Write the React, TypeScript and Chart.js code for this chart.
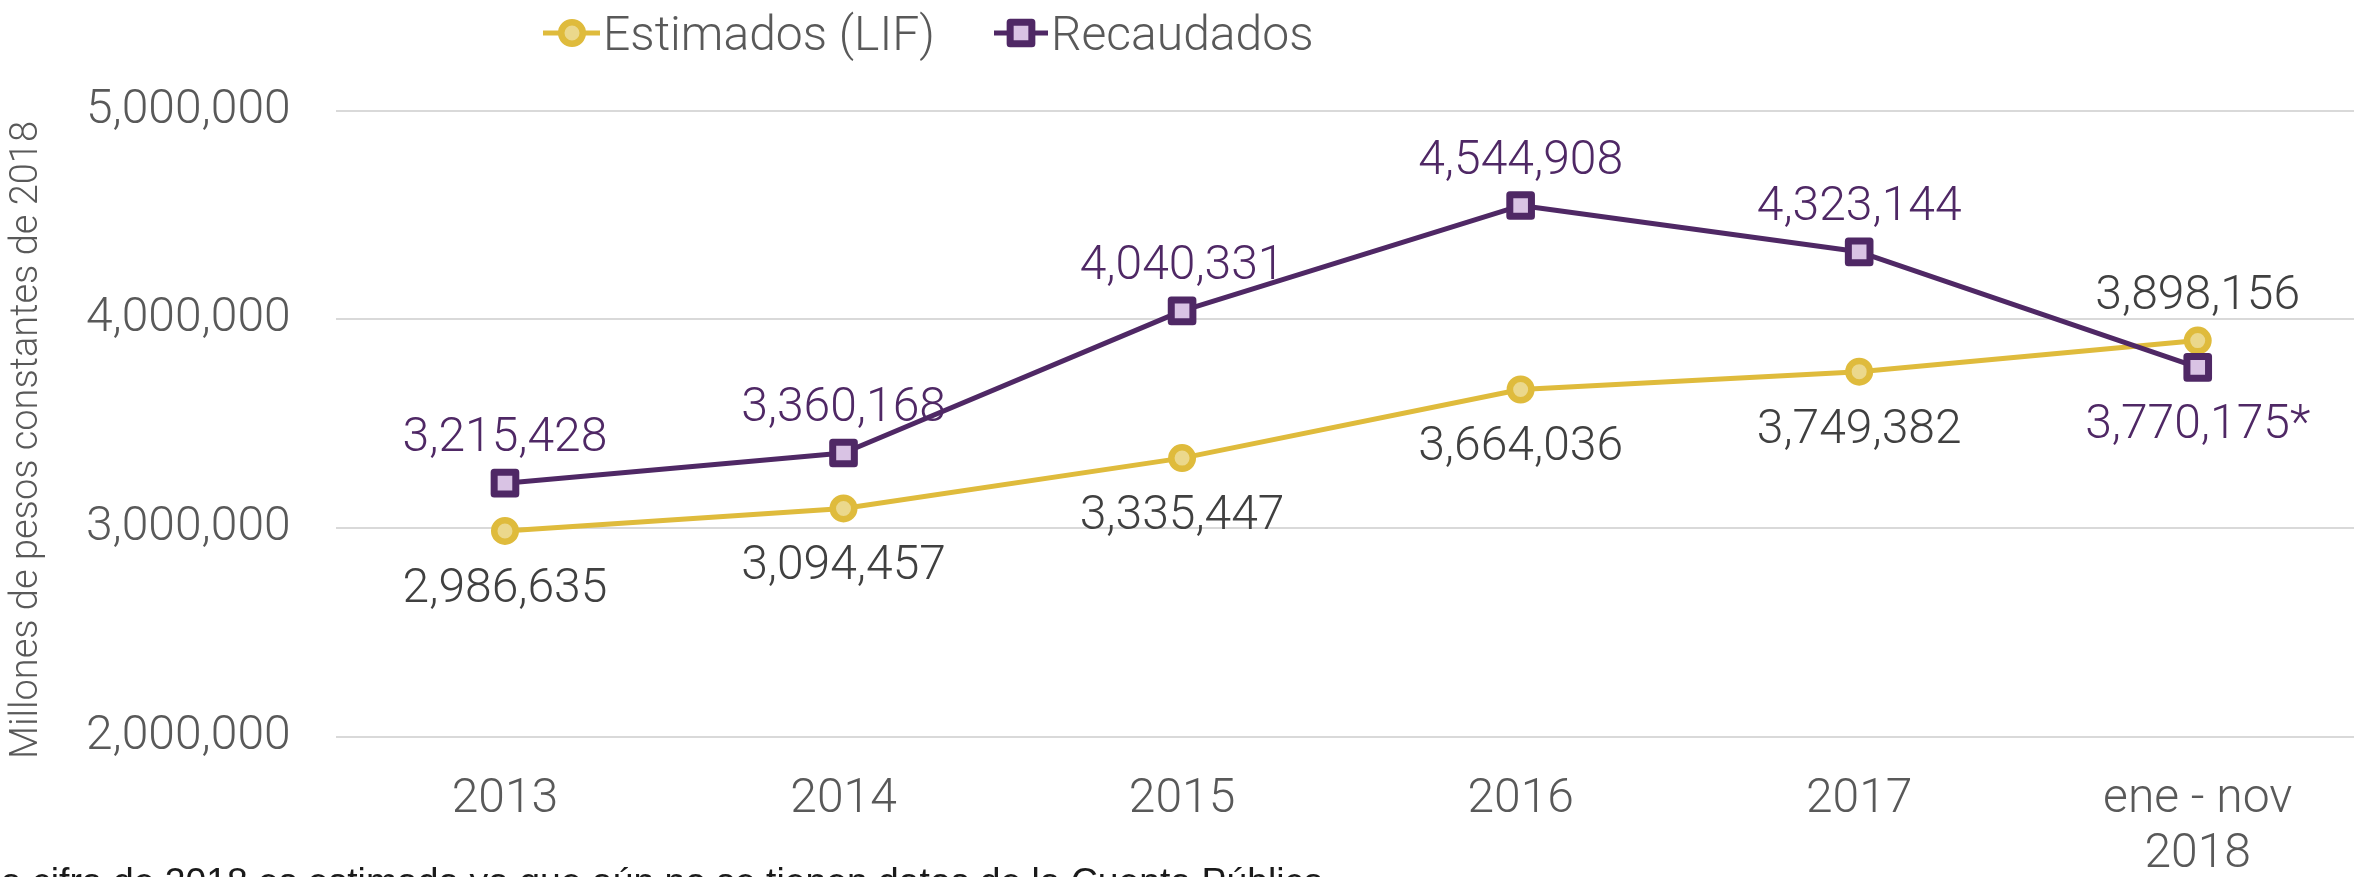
import React, { useEffect, useRef } from 'react';
import { Chart, registerables } from 'chart.js';

Chart.register(...registerables);

const categories: (string | string[])[] = ['2013', '2014', '2015', '2016', '2017', ['ene - nov', '2018']];
const estimados = [2986635, 3094457, 3335447, 3664036, 3749382, 3898156];
const recaudados = [3215428, 3360168, 4040331, 4544908, 4323144, 3770175];
const estimadosPos = ['below', 'below', 'below', 'below', 'below', 'above'];
const recaudadosPos = ['above', 'above', 'above', 'above', 'above', 'below'];
const estimadosSuffix = ['', '', '', '', '', ''];
const recaudadosSuffix = ['', '', '', '', '', '*'];
const yTicks = [2000000, 3000000, 4000000, 5000000];
const seriesNames = ['Estimados (LIF)', 'Recaudados'];
const yTitle = 'Millones de pesos constantes de 2018';
const footnote = '*La cifra de 2018 es estimada ya que aún no se tienen datos de la Cuenta Pública';

const FONT = 'Roboto, "Liberation Sans", sans-serif';
const YELLOW = '#DFBB3C';
const YELLOW_FILL = '#EBD88C';
const PURPLE = '#4F2865';
const PURPLE_FILL = '#D9C3E4';
const GRAY_TEXT = '#595959';
const DARK_TEXT = '#404040';

const fmt = (v: number) => v.toLocaleString('en-US');

const labelCfg = [
  { pos: estimadosPos, suffix: estimadosSuffix, color: DARK_TEXT },
  { pos: recaudadosPos, suffix: recaudadosSuffix, color: PURPLE },
];

function drawCircleMarker(ctx: CanvasRenderingContext2D, x: number, y: number) {
  ctx.beginPath();
  ctx.arc(x, y, 10.75, 0, Math.PI * 2);
  ctx.fillStyle = YELLOW_FILL;
  ctx.fill();
  ctx.lineWidth = 6.5;
  ctx.strokeStyle = YELLOW;
  ctx.stroke();
}

function drawSquareMarker(ctx: CanvasRenderingContext2D, x: number, y: number) {
  const s = 21.7;
  ctx.beginPath();
  ctx.rect(x - s / 2, y - s / 2, s, s);
  ctx.fillStyle = PURPLE_FILL;
  ctx.fill();
  ctx.lineWidth = 7;
  ctx.lineJoin = 'round';
  ctx.strokeStyle = PURPLE;
  ctx.stroke();
}

const customPlugin = {
  id: 'customDecor',
  beforeDatasetsDraw(chart: any) {
    chart.ctx.save();
    chart.ctx.lineJoin = 'round';
  },
  afterDatasetsDraw(chart: any) {
    chart.ctx.restore();
    const ctx: CanvasRenderingContext2D = chart.ctx;
    ctx.save();
    ctx.font = `300 48px ${FONT}`;
    ctx.textAlign = 'center';
    ctx.textBaseline = 'alphabetic';
    chart.data.datasets.forEach((ds: any, di: number) => {
      const meta = chart.getDatasetMeta(di);
      const cfg = labelCfg[di];
      meta.data.forEach((pt: any, i: number) => {
        const text = fmt(ds.data[i]) + cfg.suffix[i];
        const y = cfg.pos[i] === 'above' ? pt.y - 49 + 17 : pt.y + 54 + 17;
        ctx.fillStyle = cfg.color;
        ctx.fillText(text, pt.x, y);
      });
    });
    ctx.restore();
  },
  afterDraw(chart: any) {
    const ctx: CanvasRenderingContext2D = chart.ctx;
    ctx.save();
    // legend
    const ly = 33;
    ctx.lineCap = 'butt';
    ctx.lineWidth = 5;
    ctx.strokeStyle = YELLOW;
    ctx.beginPath();
    ctx.moveTo(543, ly);
    ctx.lineTo(600, ly);
    ctx.stroke();
    drawCircleMarker(ctx, 572, ly);
    ctx.lineWidth = 5;
    ctx.strokeStyle = PURPLE;
    ctx.beginPath();
    ctx.moveTo(994, ly);
    ctx.lineTo(1048, ly);
    ctx.stroke();
    drawSquareMarker(ctx, 1021, ly);
    ctx.font = `300 48px ${FONT}`;
    ctx.fillStyle = GRAY_TEXT;
    ctx.textAlign = 'left';
    ctx.textBaseline = 'alphabetic';
    ctx.fillText(seriesNames[0], 603, ly + 17);
    ctx.fillText(seriesNames[1], 1051, ly + 17);

    // y title
    ctx.save();
    ctx.translate(27, 440);
    ctx.rotate(-Math.PI / 2);
    ctx.font = `300 38px ${FONT}`;
    ctx.textAlign = 'center';
    ctx.textBaseline = 'middle';
    ctx.fillStyle = GRAY_TEXT;
    ctx.fillText(yTitle, 0, 0);
    ctx.restore();

    // footnote
    ctx.font = `400 37.3px "Liberation Sans", Arial, sans-serif`;
    ctx.fillStyle = '#1a1a1a';
    ctx.textAlign = 'left';
    const off = ctx.measureText('*L').width;
    ctx.fillText(footnote, -off + 1, 894);
    ctx.restore();
  },
};

export default function App() {
  const canvasRef = useRef<HTMLCanvasElement | null>(null);

  useEffect(() => {
    if (!canvasRef.current) return;
    const chart = new Chart(canvasRef.current, {
      type: 'line',
      data: {
        labels: categories,
        datasets: [
          {
            label: seriesNames[0],
            data: estimados,
            order: 1,
            borderColor: YELLOW,
            backgroundColor: YELLOW_FILL,
            borderWidth: 5,
            borderJoinStyle: 'round',
            pointStyle: 'circle',
            pointRadius: 10.75,
            pointBorderWidth: 6.5,
            pointBackgroundColor: YELLOW_FILL,
            pointBorderColor: YELLOW,
            tension: 0,
            fill: false,
            clip: false,
          },
          {
            label: seriesNames[1],
            data: recaudados,
            order: 0,
            borderColor: PURPLE,
            backgroundColor: PURPLE_FILL,
            borderWidth: 5,
            borderJoinStyle: 'round',
            pointStyle: 'rect',
            pointRadius: 15.3,
            pointBorderWidth: 7,
            pointBackgroundColor: PURPLE_FILL,
            pointBorderColor: PURPLE,
            tension: 0,
            fill: false,
            clip: false,
          },
        ],
      },
      options: {
        responsive: false,
        animation: false,
        devicePixelRatio: 1,
        layout: { autoPadding: false, padding: { left: 0, right: 0, top: 110.5, bottom: 0 } },
        plugins: {
          legend: { display: false },
          tooltip: { enabled: false },
          title: { display: false },
        },
        scales: {
          x: {
            type: 'category',
            offset: true,
            grid: { display: false, drawTicks: false },
            border: { display: false },
            ticks: {
              color: GRAY_TEXT,
              font: { family: FONT, size: 48, weight: '300', lineHeight: 1.15 },
              padding: 35,
              maxRotation: 0,
              autoSkip: false,
            },
            afterFit: (scale: any) => {
              scale.height = 140;
              scale.paddingLeft = 0;
              scale.paddingRight = 0;
            },
          },
          y: {
            min: yTicks[0],
            max: yTicks[yTicks.length - 1],
            afterBuildTicks: (scale: any) => {
              scale.ticks = yTicks.map((v) => ({ value: v }));
            },
            grid: { color: '#D9D9D9', lineWidth: 2, drawTicks: false },
            border: { display: false },
            ticks: {
              color: GRAY_TEXT,
              font: { family: FONT, size: 48, weight: '300' },
              padding: 45,
              callback: (v: any) => fmt(Number(v)),
            },
            afterFit: (scale: any) => {
              scale.width = 335.7;
            },
          },
        },
      },
      plugins: [customPlugin],
    } as any);
    return () => chart.destroy();
  }, []);

  return (
    <div style={{ position: 'fixed', left: 0, top: 0, width: 2354, height: 877, background: '#fff', overflow: 'hidden' }}>
      <canvas ref={canvasRef} width={2367} height={877} style={{ display: 'block' }} />
    </div>
  );
}
